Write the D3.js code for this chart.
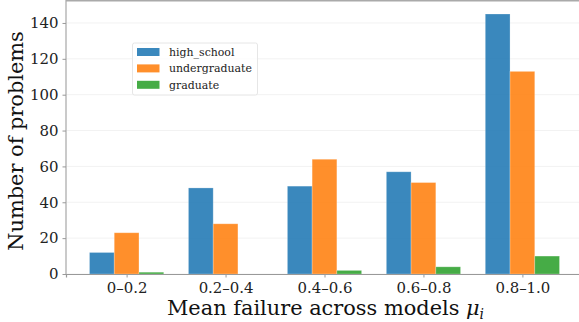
<!DOCTYPE html>
<html><head><meta charset="utf-8">
<script src="https://cdn.jsdelivr.net/npm/d3@7"></script>
<style>body{margin:0;background:#fff}svg{display:block}</style>
</head><body><svg id="c" width="579" height="322"></svg>
<script>
const categories = ["0–0.2","0.2–0.4","0.4–0.6","0.6–0.8","0.8–1.0"];
const seriesNames = ["high_school","undergraduate","graduate"];
const highSchool = [12,48,49,57,145];
const undergraduate = [23,28,64,51,113];
const graduate = [1,0,2,4,10];
const yTicks = [0,20,40,60,80,100,120,140];
const colors = ["#1f77b4","#ff7f0e","#2ca02c"];
const series = [highSchool, undergraduate, graduate];

(function(){
const SERIF = "'DejaVu Serif Condensed', 'DejaVu Serif', serif";
const SX = 1.106; // widen condensed glyphs to regular DejaVu Serif width
const svg = d3.select("#c");
const mLeft = 66, mTop = 1, mBottom = 274;
const barW = 0.25;
const x = d3.scaleLinear().domain([-0.6125, 4.6125]).range([mLeft, mLeft + 517]);
const y = d3.scaleLinear().domain([0, 145*1.05]).range([mBottom, mTop]);

// grid
svg.append("g").selectAll("line").data(yTicks).join("line")
  .attr("x1", mLeft).attr("x2", 579).attr("y1", d=>y(d)).attr("y2", d=>y(d))
  .attr("stroke", "#f2f2f2").attr("stroke-width", 1);

// bars
series.forEach((vals, s) => {
  svg.append("g").selectAll("rect").data(vals).join("rect")
    .attr("x", (d,i)=> x(i + (s-1)*barW - barW/2))
    .attr("width", x(barW) - x(0))
    .attr("y", d=>y(d)).attr("height", d=>y(0)-y(d))
    .attr("fill", colors[s]).attr("fill-opacity", 0.88)
    .attr("stroke", "#fff").attr("stroke-opacity", 0.3).attr("stroke-width", 0.8);
});

// spines
svg.append("line").attr("x1", mLeft).attr("x2", mLeft).attr("y1", 0).attr("y2", mBottom)
  .attr("stroke", "#b8b8b8").attr("stroke-width", 1.5);
svg.append("line").attr("x1", mLeft).attr("x2", 579).attr("y1", 0.75).attr("y2", 0.75)
  .attr("stroke", "#aaaaaa").attr("stroke-width", 1.5);

// y axis
const yAxis = svg.append("g").attr("transform", `translate(${mLeft},0)`)
  .call(d3.axisLeft(y).tickValues(yTicks).tickSize(3.5).tickPadding(4));
yAxis.select(".domain").remove();
yAxis.selectAll(".tick line").attr("stroke", "#999");
yAxis.selectAll(".tick text").style("font-size", "15px").style("font-family", SERIF).attr("fill", "#222")
  .attr("x", -7.5 / SX).attr("transform", `scale(${SX},1)`);

// x axis
const xAxis = svg.append("g").attr("transform", `translate(0,${mBottom})`)
  .call(d3.axisBottom(x).tickValues(d3.range(categories.length)).tickFormat(i=>categories[i]).tickSize(3.5).tickPadding(5));
xAxis.select(".domain").attr("stroke", "#999").attr("stroke-width", 1.2);
xAxis.selectAll(".tick line").attr("stroke", "#999");
xAxis.selectAll(".tick text").style("font-size", "15px").style("font-family", SERIF).attr("fill", "#222")
  .attr("transform", `scale(${SX},1)`);

// axis labels
svg.append("text").attr("transform", `translate(22.5,141) rotate(-90) scale(${SX},1)`)
  .attr("text-anchor", "middle").style("font-size", "21px").style("font-family", SERIF).attr("fill", "#111")
  .text("Number of problems");
const xl = svg.append("text").attr("transform", `translate(325.5,314.5) scale(${SX},1)`)
  .attr("text-anchor", "middle").style("font-size", "21px").style("font-family", SERIF).attr("fill", "#111");
xl.append("tspan").text("Mean failure across models ");
xl.append("tspan").style("font-style", "italic").text("μ");
xl.append("tspan").style("font-style", "italic").style("font-size", "14px").attr("dy", 4).text("i");

// legend
const lg = svg.append("g");
lg.append("rect").attr("x", 132.5).attr("y", 43).attr("width", 125).attr("height", 52)
  .attr("rx", 2).attr("fill", "#fff").attr("fill-opacity", 0.8).attr("stroke", "#e6e6e6");
seriesNames.forEach((n, i) => {
  const cy = 52 + i*16.4;
  lg.append("rect").attr("x", 137).attr("y", cy - 4).attr("width", 22.5).attr("height", 8)
    .attr("fill", colors[i]).attr("fill-opacity", 0.88);
  lg.append("text").attr("transform", `translate(169,${cy + 4}) scale(${SX},1)`)
    .style("font-size", "11px").style("font-family", SERIF).attr("fill", "#222").text(n);
});
})();
</script></body></html>
